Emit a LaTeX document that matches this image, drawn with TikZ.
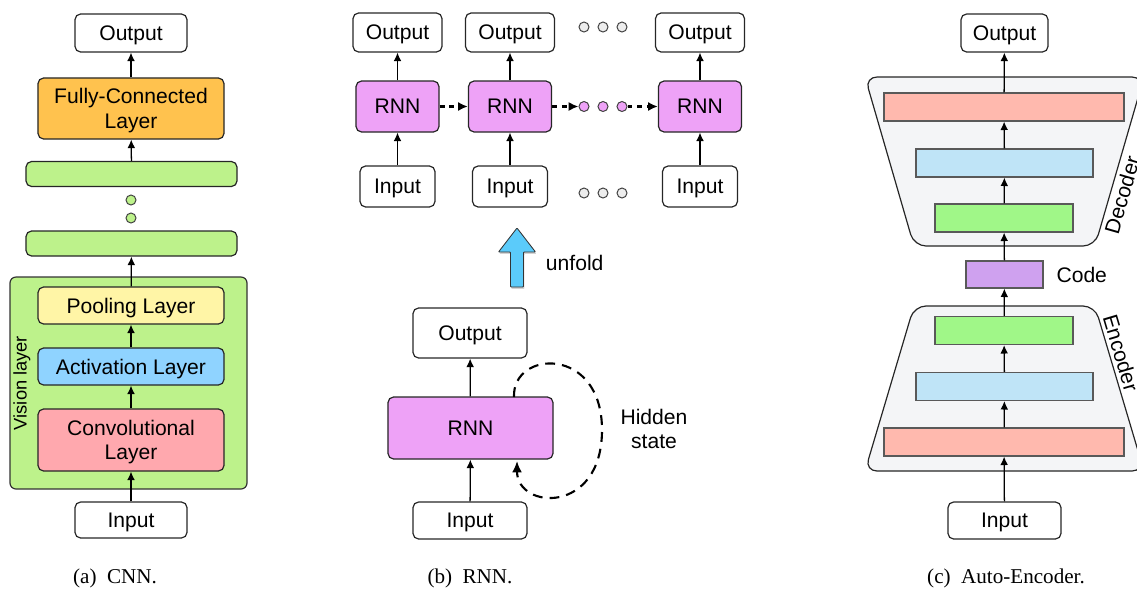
\documentclass[tikz,border=0pt]{standalone}
\usepackage{fontspec}
\setmainfont{Liberation Sans}
\newfontfamily\capfont{Liberation Serif}
\usetikzlibrary{positioning,shadows,arrows.meta}

\definecolor{fcorange}{HTML}{FFC24E}
\definecolor{bargreen}{HTML}{BDF28B}
\definecolor{poolyellow}{HTML}{FFF5A6}
\definecolor{actblue}{HTML}{8FD3FF}
\definecolor{convpink}{HTML}{FFA8AE}
\definecolor{rnnpink}{HTML}{EEA2F7}
\definecolor{aered}{HTML}{FFB9AE}
\definecolor{aeblue}{HTML}{BFE4F7}
\definecolor{aegreen}{HTML}{A0F788}
\definecolor{codepurple}{HTML}{CFA1EF}
\definecolor{trapgray}{HTML}{F4F5F7}
\definecolor{unfoldblue}{HTML}{5BCBFA}

\tikzset{
  box/.style={draw=black!85, rounded corners=0.14cm, line width=0.85pt, inner sep=0pt,
    align=center, text depth=0pt, font=\fontsize{15}{17.5}\selectfont},
  aebar/.style={draw=black!65, line width=0.8pt, inner sep=0pt},
  dot/.style={circle, draw=black!75, line width=0.7pt, minimum size=0.25cm, inner sep=0pt},
  arr/.style={-{Latex[length=6pt,width=5.5pt]}, line width=0.9pt},
  darr/.style={-{Latex[length=7pt,width=6.5pt]}, line width=1.5pt, dash pattern=on 3.5pt off 3.5pt},
  lbl/.style={font=\fontsize{15}{17.5}\selectfont, align=center},
  subcap/.style={font=\capfont\fontsize{15}{17}\selectfont},
}

\begin{document}
\begin{tikzpicture}[x=0.025cm, y=-0.025cm]
		\useasboundingbox (0,0) rectangle (1137,588);

		%(a) CNN
		\draw [fill=bargreen, draw=black!80, line width=0.85pt, rounded corners=0.15cm] (10,277) rectangle (247,489);
		\node [lbl, font=\fontsize{13}{15}\selectfont, rotate=90] (vislbl) at (22,383) {Vision layer};

		\node [box] (cnnout) at (131,33) [minimum width=2.8cm, minimum height=0.95cm] {Output};
		\node [box, fill=fcorange] (fc) at (131,108.5) [minimum width=4.65cm, minimum height=1.525cm] {Fully-Connected\\Layer};
		\node [box, fill=bargreen] (bar1) at (131.5,174) [minimum width=5.275cm, minimum height=0.625cm] {};
		\node [dot, fill=bargreen] (cdot1) at (131,200) {};
		\node [dot, fill=bargreen] (cdot2) at (131,218) {};
		\node [box, fill=bargreen] (bar2) at (131.5,243.5) [minimum width=5.275cm, minimum height=0.625cm] {};
		\node [box, fill=poolyellow] (pool) at (131,305.5) [minimum width=4.65cm, minimum height=0.925cm] {Pooling Layer};
		\node [box, fill=actblue] (act) at (131,366.5) [minimum width=4.65cm, minimum height=0.925cm] {Activation Layer};
		\node [box, fill=convpink] (conv) at (131,440) [minimum width=4.65cm, minimum height=1.55cm] {Convolutional\\Layer};
		\node [box] (cnnin) at (131,520) [minimum width=2.8cm, minimum height=0.9cm] {Input};

		\draw [arr] (cnnin) -- (conv);
		\draw [arr] (conv) -- (act);
		\draw [arr] (act) -- (pool);
		\draw [arr] (pool) -- (bar2);
		\draw [arr] (bar1) -- (fc);
		\draw [arr] (fc) -- (cnnout);

		\node [subcap] (capa) at (115,578) {(a)\enspace CNN.};

		%(b) RNN, ausgerollt
		\foreach \n/\x in {1/397.5, 2/510, 3/700} {
			\node [box] (rout\n) at (\x,32.5) [minimum width=2.225cm, minimum height=0.975cm] {Output};
			\node [box, fill=rnnpink] (rnn\n) at (\x,106.5) [minimum width=2.075cm, minimum height=1.275cm] {RNN};
			\node [box] (rin\n) at (\x,186.5) [minimum width=1.875cm, minimum height=1.025cm] {Input};
			\draw [arr] (rin\n) -- (rnn\n);
			\draw [arr] (rnn\n) -- (rout\n);
		}
		\foreach \i/\x in {1/584, 2/603, 3/622} {
			\node [dot, fill=black!7] (tdot\i) at (\x,27) {};
			\node [dot, fill=rnnpink] (mdot\i) at (\x,106.5) {};
			\node [dot, fill=black!7] (bdot\i) at (\x,193) {};
		}
		\draw [darr] (rnn1) -- (rnn2);
		\draw [darr] (rnn2) -- (mdot1);
		\draw [darr] (mdot3) -- (rnn3);

		%unfold Pfeil
		\draw [fill=unfoldblue, draw=black!80, line width=0.6pt, rounded corners=0.5pt,
			drop shadow={shadow xshift=0.6pt, shadow yshift=-1.4pt, opacity=0.35}]
			(510.5,287) -- (510.5,252) -- (498.5,252) -- (517,228) -- (535.5,252) -- (523.5,252) -- (523.5,287) -- cycle;
		\node [lbl, anchor=west] (unfold) at (541,263) {unfold};

		%(b) RNN, gefaltet
		\node [box] (lout) at (470,333) [minimum width=2.85cm, minimum height=1.25cm] {Output};
		\node [box, fill=rnnpink] (lrnn) at (470.5,428) [minimum width=4.125cm, minimum height=1.55cm] {RNN};
		\node [box] (lin) at (470,520.5) [minimum width=2.85cm, minimum height=0.925cm] {Input};
		\draw [arr] (lin) -- (lrnn);
		\draw [arr] (lrnn) -- (lout);

		%Hidden state Schleife
		\coordinate (hsa) at (514,397);
		\coordinate (hsb) at (517,461);
		\draw [-{Latex[length=8pt,width=7pt]}, line width=1.5pt, dash pattern=on 7pt off 5pt]
			(hsa) .. controls (512,350) and (602,345) .. (602,430)
			.. controls (602,515) and (517,510) .. (hsb);
		\node [lbl] (hidden) at (654,429) {Hidden\\state};

		\node [subcap] (capb) at (470,578) {(b)\enspace RNN.};

		%(c) Auto-Encoder
		\draw [fill=trapgray, draw=black!85, line width=0.85pt, rounded corners=0.3cm]
			(865,77) -- (1144,77) -- (1095,246) -- (914,246) -- cycle;
		\draw [fill=trapgray, draw=black!85, line width=0.85pt, rounded corners=0.3cm]
			(914,306) -- (1095,306) -- (1144,471) -- (865,471) -- cycle;
		\node [lbl, inner sep=0pt, rotate=74] (declbl) at (1122,195) {Decoder};
		\node [lbl, inner sep=0pt, rotate=-73.5] (enclbl) at (1121,353) {Encoder};

		\node [box] (aeout) at (1004.5,33) [minimum width=2.175cm, minimum height=0.95cm] {Output};
		\node [aebar, fill=aered] (dec3) at (1004,107) [minimum width=6cm, minimum height=0.7cm] {};
		\node [aebar, fill=aeblue] (dec2) at (1004.5,163) [minimum width=4.425cm, minimum height=0.7cm] {};
		\node [aebar, fill=aegreen] (dec1) at (1004,218) [minimum width=3.45cm, minimum height=0.7cm] {};
		\node [aebar, fill=codepurple] (code) at (1004.5,274.5) [minimum width=1.925cm, minimum height=0.675cm] {};
		\node [lbl, right=0.2cm of code] (codelbl) {Code};
		\node [aebar, fill=aegreen] (enc1) at (1004,330.5) [minimum width=3.45cm, minimum height=0.7cm] {};
		\node [aebar, fill=aeblue] (enc2) at (1004.5,386.5) [minimum width=4.425cm, minimum height=0.7cm] {};
		\node [aebar, fill=aered] (enc3) at (1004,442) [minimum width=6cm, minimum height=0.7cm] {};
		\node [box] (aein) at (1004.5,520.5) [minimum width=2.825cm, minimum height=0.925cm] {Input};

		\draw [arr] (aein) -- (enc3);
		\draw [arr] (enc3) -- (enc2);
		\draw [arr] (enc2) -- (enc1);
		\draw [arr] (enc1) -- (code);
		\draw [arr] (code) -- (dec1);
		\draw [arr] (dec1) -- (dec2);
		\draw [arr] (dec2) -- (dec3);
		\draw [arr] (dec3) -- (aeout);

		\node [subcap] (capc) at (1006,578) {(c)\enspace Auto-Encoder.};

\end{tikzpicture}
\end{document}
